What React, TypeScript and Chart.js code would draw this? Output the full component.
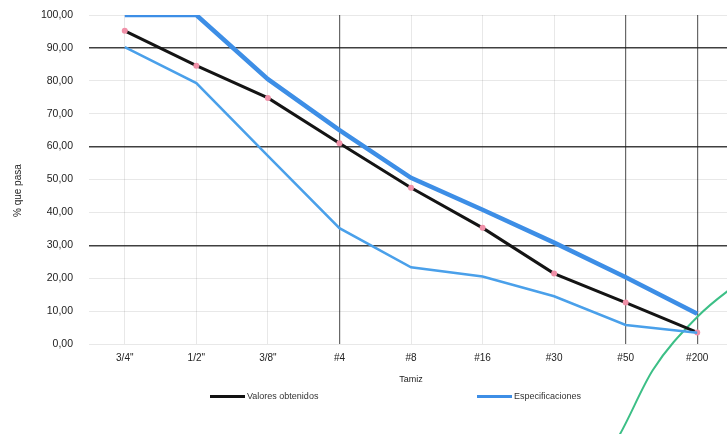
import React, { useEffect, useRef } from "react";
import { Chart, registerables } from "chart.js";
Chart.register(...registerables);

const categories = ['3/4"', '1/2"', '3/8"', '#4', '#8', '#16', '#30', '#50', '#200'];
const valoresObtenidos = [95.2, 84.6, 74.8, 61.0, 47.5, 35.3, 21.4, 12.6, 3.5];
const especSuperior = [100, 100, 80.5, 65.0, 50.5, 40.8, 30.8, 20.3, 9.2];
const especInferior = [90.2, 79.3, 57.2, 35.2, 23.3, 20.5, 14.5, 5.8, 3.4];
const curvaVerdeX = [6.7, 6.92, 7.38, 8.0, 8.42, 8.7];
const curvaVerdeY = [-35, -27.4, -7.9, 8.2, 16, 20];
const legendLabels = ["Valores obtenidos", "Especificaciones"];
const legendColors = ["#111111", "#3d8ee6"];

const FONT = "'Liberation Sans', Arial, sans-serif";

export default function App() {
  const ref = useRef<HTMLCanvasElement | null>(null);
  useEffect(() => {
    document.body.style.margin = "0";
    const ctx = ref.current!.getContext("2d")!;
    const majorY = [30, 60, 90];
    const majorX = [3, 7, 8];
    const chart = new Chart(ctx, {
      type: "line",
      data: {
        labels: categories,
        datasets: [
          {
            label: "Especificaciones sup",
            data: especSuperior,
            borderColor: "#3d8ee6",
            borderWidth: 4.5,
            pointRadius: 0,
            tension: 0,
          },
          {
            label: "Especificaciones inf",
            data: especInferior,
            borderColor: "#4aa0ea",
            borderWidth: 2.5,
            pointRadius: 0,
            tension: 0,
          },
          {
            label: "Valores obtenidos",
            data: valoresObtenidos,
            borderColor: "#141414",
            borderWidth: 3,
            pointRadius: 3,
            pointBackgroundColor: "#f090a8",
            pointBorderWidth: 0,
            tension: 0,
          },
          {
            label: "verde",
            data: curvaVerdeX.map((x, i) => ({ x, y: curvaVerdeY[i] })) as any,
            xAxisID: "x2",
            borderColor: "#3cbf86",
            borderWidth: 2,
            pointRadius: 0,
            cubicInterpolationMode: "monotone",
            clip: false as any,
          },
        ],
      },
      options: {
        animation: false,
        responsive: true,
        maintainAspectRatio: false,
        layout: { padding: { left: 0, right: 12, top: 15, bottom: 46 } },
        plugins: { legend: { display: false }, tooltip: { enabled: false } },
        scales: {
          x: {
            type: "category",
            offset: true,
            grid: {
              offset: false,
              drawTicks: false,
              color: (c: any) => (majorX.includes(c.index) ? "rgba(40,40,40,0.7)" : "rgba(0,0,0,0.09)"),
              lineWidth: (c: any) => (majorX.includes(c.index) ? 1.2 : 1),
            },
            border: { display: false },
            ticks: { color: "#222", font: { family: FONT, size: 10 }, padding: 8 },
            title: { display: true, text: "Tamiz", color: "#222", font: { family: FONT, size: 9 }, padding: { top: 4, bottom: 3 } },
            afterFit: (s: any) => { s.height = 44; s.paddingLeft = 0; s.paddingRight = 0; },
          },
          x2: { type: "linear", display: false, min: -0.5, max: 8.5 },
          y: {
            min: 0,
            max: 100,
            ticks: {
              stepSize: 10,
              color: "#222",
              font: { family: FONT, size: 10.5 },
              padding: 16,
              callback: (v: any) => Number(v).toFixed(2).replace(".", ","),
            },
            grid: {
              drawTicks: false,
              color: (c: any) => (majorY.includes(c.tick?.value) ? "rgba(30,30,30,0.85)" : "rgba(0,0,0,0.09)"),
              lineWidth: (c: any) => (majorY.includes(c.tick?.value) ? 1.5 : 1),
            },
            border: { display: false },
            title: { display: true, text: "% que pasa        ", color: "#222", font: { family: FONT, size: 10 }, padding: { top: 12, bottom: 4 } },
            afterFit: (s: any) => { s.width = 89; s.paddingTop = 0; s.paddingBottom = 0; },
          },
        },
      },
    });
    return () => chart.destroy();
  }, []);

  const legendPos = [210, 477];
  return (
    <div style={{ position: "absolute", left: 0, top: 0, width: 727, height: 434, overflow: "hidden", background: "#fff" }}>
      <div style={{ position: "absolute", left: 0, top: 0, width: 745, height: 434 }}>
        <canvas ref={ref} />
      </div>
      {legendLabels.map((l, i) => (
        <div key={l} style={{ position: "absolute", left: legendPos[i], top: 391, display: "flex", alignItems: "center", fontFamily: FONT, fontSize: 9, color: "#333" }}>
          <div style={{ width: 35, height: 3, background: legendColors[i], marginRight: 2 }} />
          <span>{l}</span>
        </div>
      ))}
    </div>
  );
}
